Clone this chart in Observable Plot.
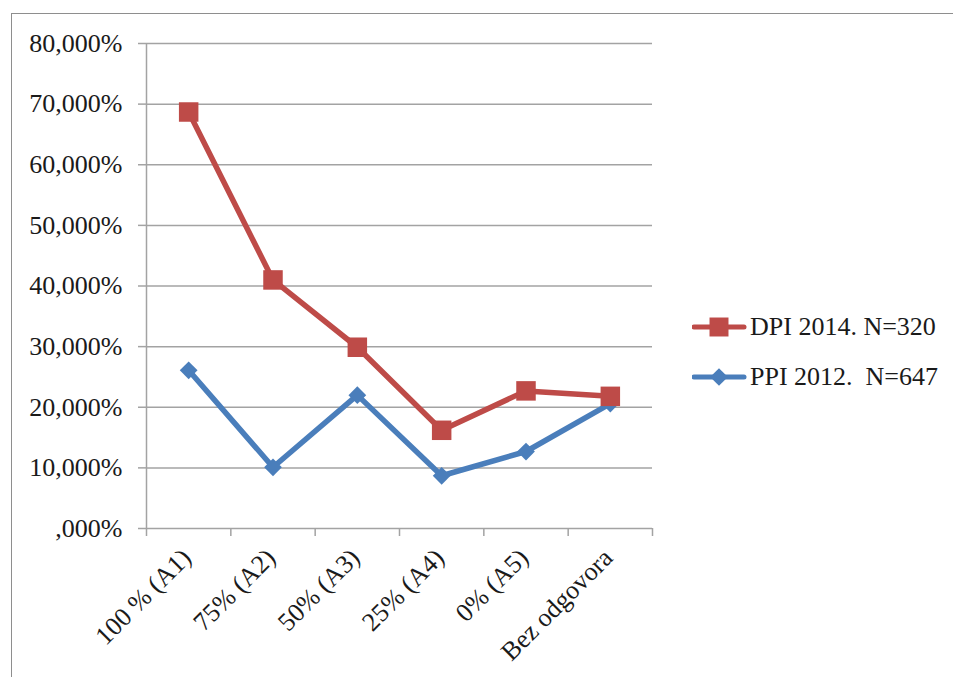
<!DOCTYPE html>
<html><head><meta charset="utf-8">
<script src="https://cdn.jsdelivr.net/npm/d3@7"></script>
<script src="https://cdn.jsdelivr.net/npm/@observablehq/plot@0.6"></script>
<style>
body{margin:0;background:#fff;}
#wrap{position:relative;width:953px;height:677px;overflow:hidden;font-family:"Liberation Serif","Times New Roman",serif;}
#frame{position:absolute;left:11px;top:13px;width:1000px;height:700px;border:1.5px solid #8e8e8e;}
#chart{position:absolute;left:0;top:0;}
#legend{position:absolute;left:692px;top:302px;font-size:26px;color:#1a1a1a;}
.row{display:flex;align-items:center;height:50px;white-space:pre;}
.row svg{margin-right:2px;}
</style></head><body>
<div id="wrap"><div id="frame"></div><div id="chart"></div><div id="legend"></div></div>
<script>
const categories = ["100 % (A1)", "75% (A2)", "50% (A3)", "25% (A4)", "0% (A5)", "Bez odgovora"];
const dpi2014 = [0.687, 0.410, 0.299, 0.162, 0.227, 0.218];
const ppi2012 = [0.261, 0.101, 0.220, 0.087, 0.127, 0.206];
const seriesNames = ["DPI 2014. N=320", "PPI 2012.  N=647"];
const yTicks = [0, 0.1, 0.2, 0.3, 0.4, 0.5, 0.6, 0.7, 0.8];

const red = "#be4b48", blue = "#4a7ebb", grid = "#a3a3a3";
const rows = s => s.map((v, i) => ({i: i + 0.5, v}));
const dpiRows = rows(dpi2014), ppiRows = rows(ppi2012);
const fmt = d => { const s = (d * 100).toFixed(3).replace(".", ","); return (s.startsWith("0,") ? s.slice(1) : s) + "%"; };

const plot = Plot.plot({
  width: 953, height: 677,
  marginLeft: 146, marginRight: 301, marginTop: 43, marginBottom: 149,
  style: {fontFamily: "'Liberation Serif','Times New Roman',serif", fontSize: "26px", color: "#1a1a1a", background: "transparent", overflow: "visible"},
  x: {type: "linear", domain: [0, categories.length], axis: null},
  y: {domain: [0, 0.8], axis: null},
  marks: [
    Plot.gridY(yTicks, {stroke: grid, strokeOpacity: 1, strokeWidth: 1.5}),
    Plot.ruleX([0], {stroke: grid, strokeWidth: 1.5}),
    Plot.axisY({ticks: yTicks, tickFormat: fmt, tickSize: 8, tickPadding: 16, stroke: grid, strokeWidth: 1.5, fill: "#1a1a1a", label: null}),
    Plot.axisX({ticks: d3.range(categories.length + 1), tickFormat: () => "", tickSize: 8, stroke: grid, strokeWidth: 1.5, label: null}),
    Plot.axisX({ticks: d3.range(categories.length).map(i => i + 0.5), tickFormat: t => categories[Math.floor(t)], tickSize: 0, tickPadding: 25, dx: -2, tickRotate: -45, fill: "#1a1a1a", label: null}),
    Plot.line(ppiRows, {x: "i", y: "v", stroke: blue, strokeWidth: 5.5}),
    Plot.dot(ppiRows, {x: "i", y: "v", symbol: "diamond2", r: 8, fill: blue, stroke: null}),
    Plot.line(dpiRows, {x: "i", y: "v", stroke: red, strokeWidth: 5.5}),
    Plot.dot(dpiRows, {x: "i", y: "v", symbol: "square", r: 11, fill: red, stroke: null})
  ]
});
document.getElementById("chart").append(plot);

const leg = d3.select("#legend");
[[seriesNames[0], red, "square"], [seriesNames[1], blue, "diamond2"]].forEach(([name, col, sym]) => {
  const r = leg.append("div").attr("class", "row");
  const s = r.append("svg").attr("width", 56).attr("height", 24);
  s.append("line").attr("x1", 2).attr("x2", 52).attr("y1", 12).attr("y2", 12).attr("stroke", col).attr("stroke-width", 5).attr("stroke-linecap", "round");
  const symType = sym === "square" ? d3.symbolSquare : d3.symbolDiamond2;
  const size = sym === "square" ? 360 : 200;
  s.append("path").attr("d", d3.symbol(symType, size)()).attr("transform", "translate(27,12)").attr("fill", col);
  r.append("span").text(name);
});
</script>
</body></html>
